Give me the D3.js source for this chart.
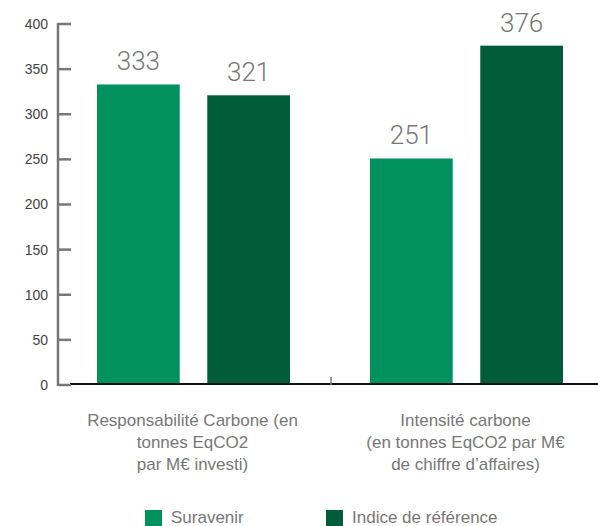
<!DOCTYPE html>
<html>
<head>
<meta charset="utf-8">
<script src="https://cdn.jsdelivr.net/npm/d3@7"></script>
<style>
  body { margin: 0; background: #fff; }
  text { font-family: "Liberation Sans", Arial, sans-serif; }
</style>
</head>
<body>
<div class="chart"></div>
<script>
var categories = [
  ['Responsabilité Carbone (en', 'tonnes EqCO2', 'par M€ investi)'],
  ['Intensité carbone', '(en tonnes EqCO2 par M€', 'de chiffre d’affaires)']
]
var series = ['Suravenir', 'Indice de référence']
var suravenir = [333, 251]
var indice = [321, 376]
var yTicks = [0, 50, 100, 150, 200, 250, 300, 350, 400]
var colors = ['#00915f', '#005c3b']

var width = 598
var height = 526
var values = [suravenir, indice]

var svg = d3.select('.chart')
  .append('svg')
    .attr('width', width)
    .attr('height', height)

var y = d3.scaleLinear().domain([0, 400]).range([385, 24])
var x0 = d3.scaleBand().domain([0, 1]).range([58, 604])
var x1 = d3.scaleBand().domain([0, 1]).range([39, 232]).paddingInner(0.25)

// bars
var groups = svg.selectAll('g.cat')
  .data(categories)
  .enter()
    .append('g')
    .attr('class', 'cat')
    .attr('transform', (d, i) => `translate(${x0(i)}, 0)`)

groups.selectAll('rect')
  .data((d, i) => values.map((v, s) => ({ s: s, v: v[i] })))
  .enter()
    .append('rect')
    .attr('x', d => x1(d.s))
    .attr('width', x1.bandwidth())
    .attr('y', d => y(d.v))
    .attr('height', d => y(0) - y(d.v))
    .style('fill', d => colors[d.s])

groups.selectAll('text.val')
  .data((d, i) => values.map((v, s) => ({ s: s, v: v[i] })))
  .enter()
    .append('text')
    .attr('class', 'val')
    .attr('x', d => x1(d.s) + x1.bandwidth() / 2)
    .attr('y', d => y(d.v) - 14)
    .attr('text-anchor', 'middle')
    .style('font-family', 'Roboto, sans-serif')
    .style('font-size', '26px')
    .style('font-weight', 300)
    .style('fill', '#777')
    .text(d => d.v)

// category labels
groups.append('text')
  .attr('text-anchor', 'middle')
  .style('font-size', '17px')
  .style('fill', '#777')
  .selectAll('tspan')
  .data(d => d)
  .enter()
    .append('tspan')
    .attr('x', (d, i, n) => x0.bandwidth() / 2 - 2)
    .attr('y', (d, i) => 426 + i * 22)
    .text(d => d)

// baseline
svg.append('line')
  .attr('x1', 70).attr('x2', width)
  .attr('y1', y(0) - 1).attr('y2', y(0) - 1)
  .style('stroke', '#111')
  .style('stroke-width', 2)

// category divider tick
svg.append('line')
  .attr('x1', x0(1)).attr('x2', x0(1))
  .attr('y1', y(0) - 8).attr('y2', y(0))
  .style('stroke', '#777')
  .style('stroke-width', 1.5)

// y axis
var yAxis = svg.append('g')
yAxis.append('line')
  .attr('x1', 58).attr('x2', 58)
  .attr('y1', y(400) - 1).attr('y2', y(0) + 1)
  .style('stroke', '#777')
  .style('stroke-width', 2.5)

var tick = yAxis.selectAll('g.tick')
  .data(yTicks)
  .enter()
    .append('g')
    .attr('class', 'tick')
    .attr('transform', d => `translate(0, ${y(d)})`)

tick.append('line')
  .attr('x1', 58).attr('x2', 71)
  .style('stroke', '#777')
  .style('stroke-width', 2.5)

tick.append('text')
  .attr('x', 48)
  .attr('dy', '0.35em')
  .attr('text-anchor', 'end')
  .style('font-size', '14px')
  .style('fill', '#444')
  .text(d => d)

// legend
var legend = svg.selectAll('g.legend')
  .data(series)
  .enter()
    .append('g')
    .attr('class', 'legend')
    .attr('transform', (d, i) => `translate(${[145, 326][i]}, 510)`)

legend.append('rect')
  .attr('width', 17)
  .attr('height', 17)
  .style('fill', (d, i) => colors[i])

legend.append('text')
  .attr('x', 26)
  .attr('y', 13)
  .style('font-size', '17px')
  .style('fill', '#777')
  .text(d => d)
</script>
</body>
</html>
